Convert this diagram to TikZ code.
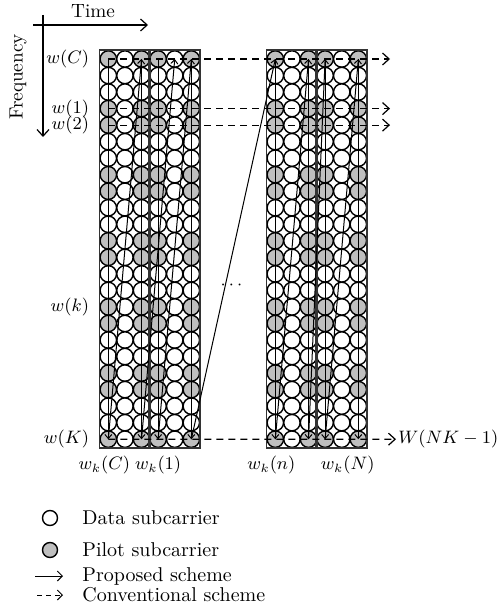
\documentclass[tikz,border=0pt]{standalone}
\usepackage{amsmath}
\usetikzlibrary{positioning, arrows.meta}

\begin{document}
\begin{tikzpicture}[
    x=0.5pt, y=-0.5pt,
    font=\fontsize{9}{11}\selectfont,
    datasc/.style={circle, draw, line width=0.7pt, fill=white, minimum size=8.2pt, inner sep=0pt},
    pilotsc/.style={datasc, fill=black!25},
    blockbox/.style={draw=black!80, line width=0.9pt},
    prop/.style={-{Straight Barb[length=2pt, width=3.5pt]}, line width=0.5pt},
    conv/.style={-{Straight Barb[length=3.3pt, width=6pt]}, line width=0.6pt, dash pattern=on 3.5pt off 2.5pt},
    axis/.style={-{Straight Barb[length=3.3pt, width=6pt]}, line width=0.6pt},
    lbl/.style={inner sep=1pt},
    legtxt/.style={lbl, anchor=west, font=\fontsize{10}{12}\selectfont}
]
\useasboundingbox (0,0) rectangle (501,615);

% axes
\node[lbl, font=\fontsize{9.6}{11}\selectfont] (time) at (93,11) {Time};
\node[lbl, rotate=90, font=\fontsize{9.6}{11}\selectfont] (freq) at (18,77) {Frequency};
\coordinate (tax0) at (33,25);
\coordinate (tax1) at (148,25);
\coordinate (fax0) at (43,15);
\coordinate (fax1) at (43,137);
\draw[axis] (tax0) -- (tax1);
\draw[axis] (fax0) -- (fax1);

% subcarrier grid
\foreach \b/\xo in {L/100, R/267} {
  \foreach \r in {0,...,23} {
    \foreach \c in {0,...,5} {
      \pgfmathtruncatemacro\isp{(mod(\r,4)==0 || mod(\r,4)==3) && (\c!=1 && \c!=4)}
      \ifnum\isp=1 \def\sctype{pilotsc}\else\def\sctype{datasc}\fi
      \node[\sctype] (\b-\r-\c) at ({\xo+8.33+16.6*\c}, {59+16.53*\r}) {};
    }
  }
  \draw[blockbox] (\b-0-0.west |- \b-0-0.north) rectangle (\b-23-2.east |- \b-23-2.south);
  \draw[blockbox] (\b-0-3.west |- \b-0-3.north) rectangle (\b-23-5.east |- \b-23-5.south);
}

% conventional scheme
\foreach \r in {0,3,4} {
  \coordinate (tip-\r) at (390, {59+16.53*\r});
  \draw[conv] (L-\r-0.center) -- (tip-\r);
}
\node[lbl, anchor=west] (wnk) at (396,439.2) {$W(NK-1)$};
\draw[conv] (L-23-0.center) -- (wnk.west);

% proposed scheme
\foreach \b in {L, R}
  \foreach \c in {0,2,3,5}
    \draw[prop] (\b-0-\c.center) -- (\b-23-\c.center);
\foreach \f/\t in {L-23-0/L-0-2, L-23-2/L-0-4, L-23-3/L-0-5, L-23-5/R-0-0,
                   R-23-0/R-0-2, R-23-2/R-0-3, R-23-3/R-0-5}
  \draw[prop] (\f.center) -- (\t.center);

% labels
\node[lbl, left=4pt of L-0-0] (wc) {$w(C)$};
\node[lbl, left=4pt of L-3-0] (w1) {$w(1)$};
\node[lbl, left=4pt of L-4-0] (w2) {$w(2)$};
\node[lbl, left=4pt of L-15-0] (wk) {$w(k)$};
\node[lbl, left=4pt of L-23-0] (wbk) {$w(K)$};
\node[lbl, below=3pt of L-23-0, xshift=-2pt] (wkc) {$w_k(C)$};
\node[lbl, below=3pt of L-23-3] (wk1) {$w_k(1)$};
\node[lbl, below=3pt of R-23-0, xshift=-2pt] (wkn) {$w_k(n)$};
\node[lbl, below=3pt of R-23-4, xshift=3pt] (wkbn) {$w_k(N)$};
\node[lbl] (dots) at (233,285) {$\cdots$};

% legend
\node[datasc, minimum size=7.5pt] (legd) at (50,518) {};
\node[pilotsc, minimum size=7.5pt] (legp) at (50,550) {};
\node[legtxt] (legdt) at (80,518) {Data subcarrier};
\node[legtxt] (legpt) at (80,550) {Pilot subcarrier};
\coordinate (lgs0) at (35,576);
\coordinate (lgs1) at (63,576);
\coordinate (lgc0) at (37,595);
\coordinate (lgc1) at (63,595);
\draw[-{Straight Barb[length=2.5pt, width=5pt]}, line width=0.5pt] (lgs0) -- (lgs1);
\draw[-{Straight Barb[length=2.5pt, width=5pt]}, line width=0.5pt, dash pattern=on 2.5pt off 2pt] (lgc0) -- (lgc1);
\node[legtxt] (legst) at (80,576) {Proposed scheme};
\node[legtxt] (legct) at (80,595) {Conventional scheme};

\end{tikzpicture}
\end{document}
